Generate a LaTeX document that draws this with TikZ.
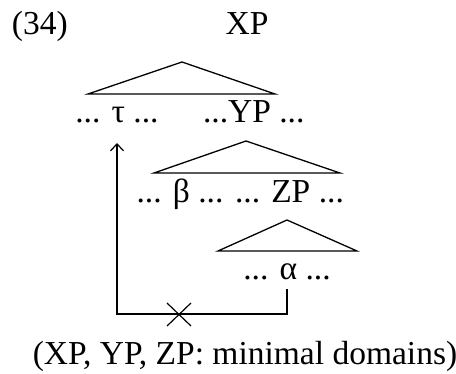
\documentclass[tikz,border=0pt]{standalone}
\usepackage{fontspec}
\setmainfont{Liberation Serif}
\usetikzlibrary{arrows.meta,shapes.misc}
\tikzset{
  lbl/.style={inner sep=0pt, outer sep=0pt, font=\fontsize{33.5}{40}\selectfont},
  tri/.style={line width=1.3pt, line join=miter},
  conn/.style={line width=1.2pt},
  xmark/.style={cross out, draw, line width=1.2pt, minimum width=24pt, minimum height=23pt, inner sep=0pt, outer sep=0pt}
}
\begin{document}
\begin{tikzpicture}[x=1pt,y=-1pt]
\useasboundingbox (0,0) rectangle (456,374);
% labels
\node[lbl, anchor=base west] (num) at (12,35) {(34)};
\node[lbl, anchor=base] (xp) at (247,35) {XP};
\node[lbl, anchor=base] (tau) at (117,123) {... τ ...};
\node[lbl, anchor=base west] (yp) at (203,123) {...YP ...};
\node[lbl, anchor=base] (beta) at (180,203) {... β ...};
\node[lbl, anchor=base west] (zp) at (235,203) {... ZP ...};
\node[lbl, anchor=base] (alpha) at (287,280) {... α ...};
\node[lbl, anchor=base] (cap) at (245,365) {(XP, YP, ZP: minimal domains)};
% triangles
\draw[tri] (182,62) -- (275,94) -- (88,94) -- cycle;
\draw[tri] (246,141) -- (340,173) -- (154,173) -- cycle;
\draw[tri] (287,220) -- (357,251) -- (218,251) -- cycle;
% movement path
\coordinate (a0) at (287,289);
\coordinate (c1) at (287,314);
\coordinate (c2) at (117,314);
\coordinate (tip) at (117,143);
\draw[conn, -{Straight Barb[length=7pt,width=13pt]}] (a0) -- (c1) -- (c2) -- (tip);
\node[xmark] (block) at (179,314.5) {};
\end{tikzpicture}
\end{document}
